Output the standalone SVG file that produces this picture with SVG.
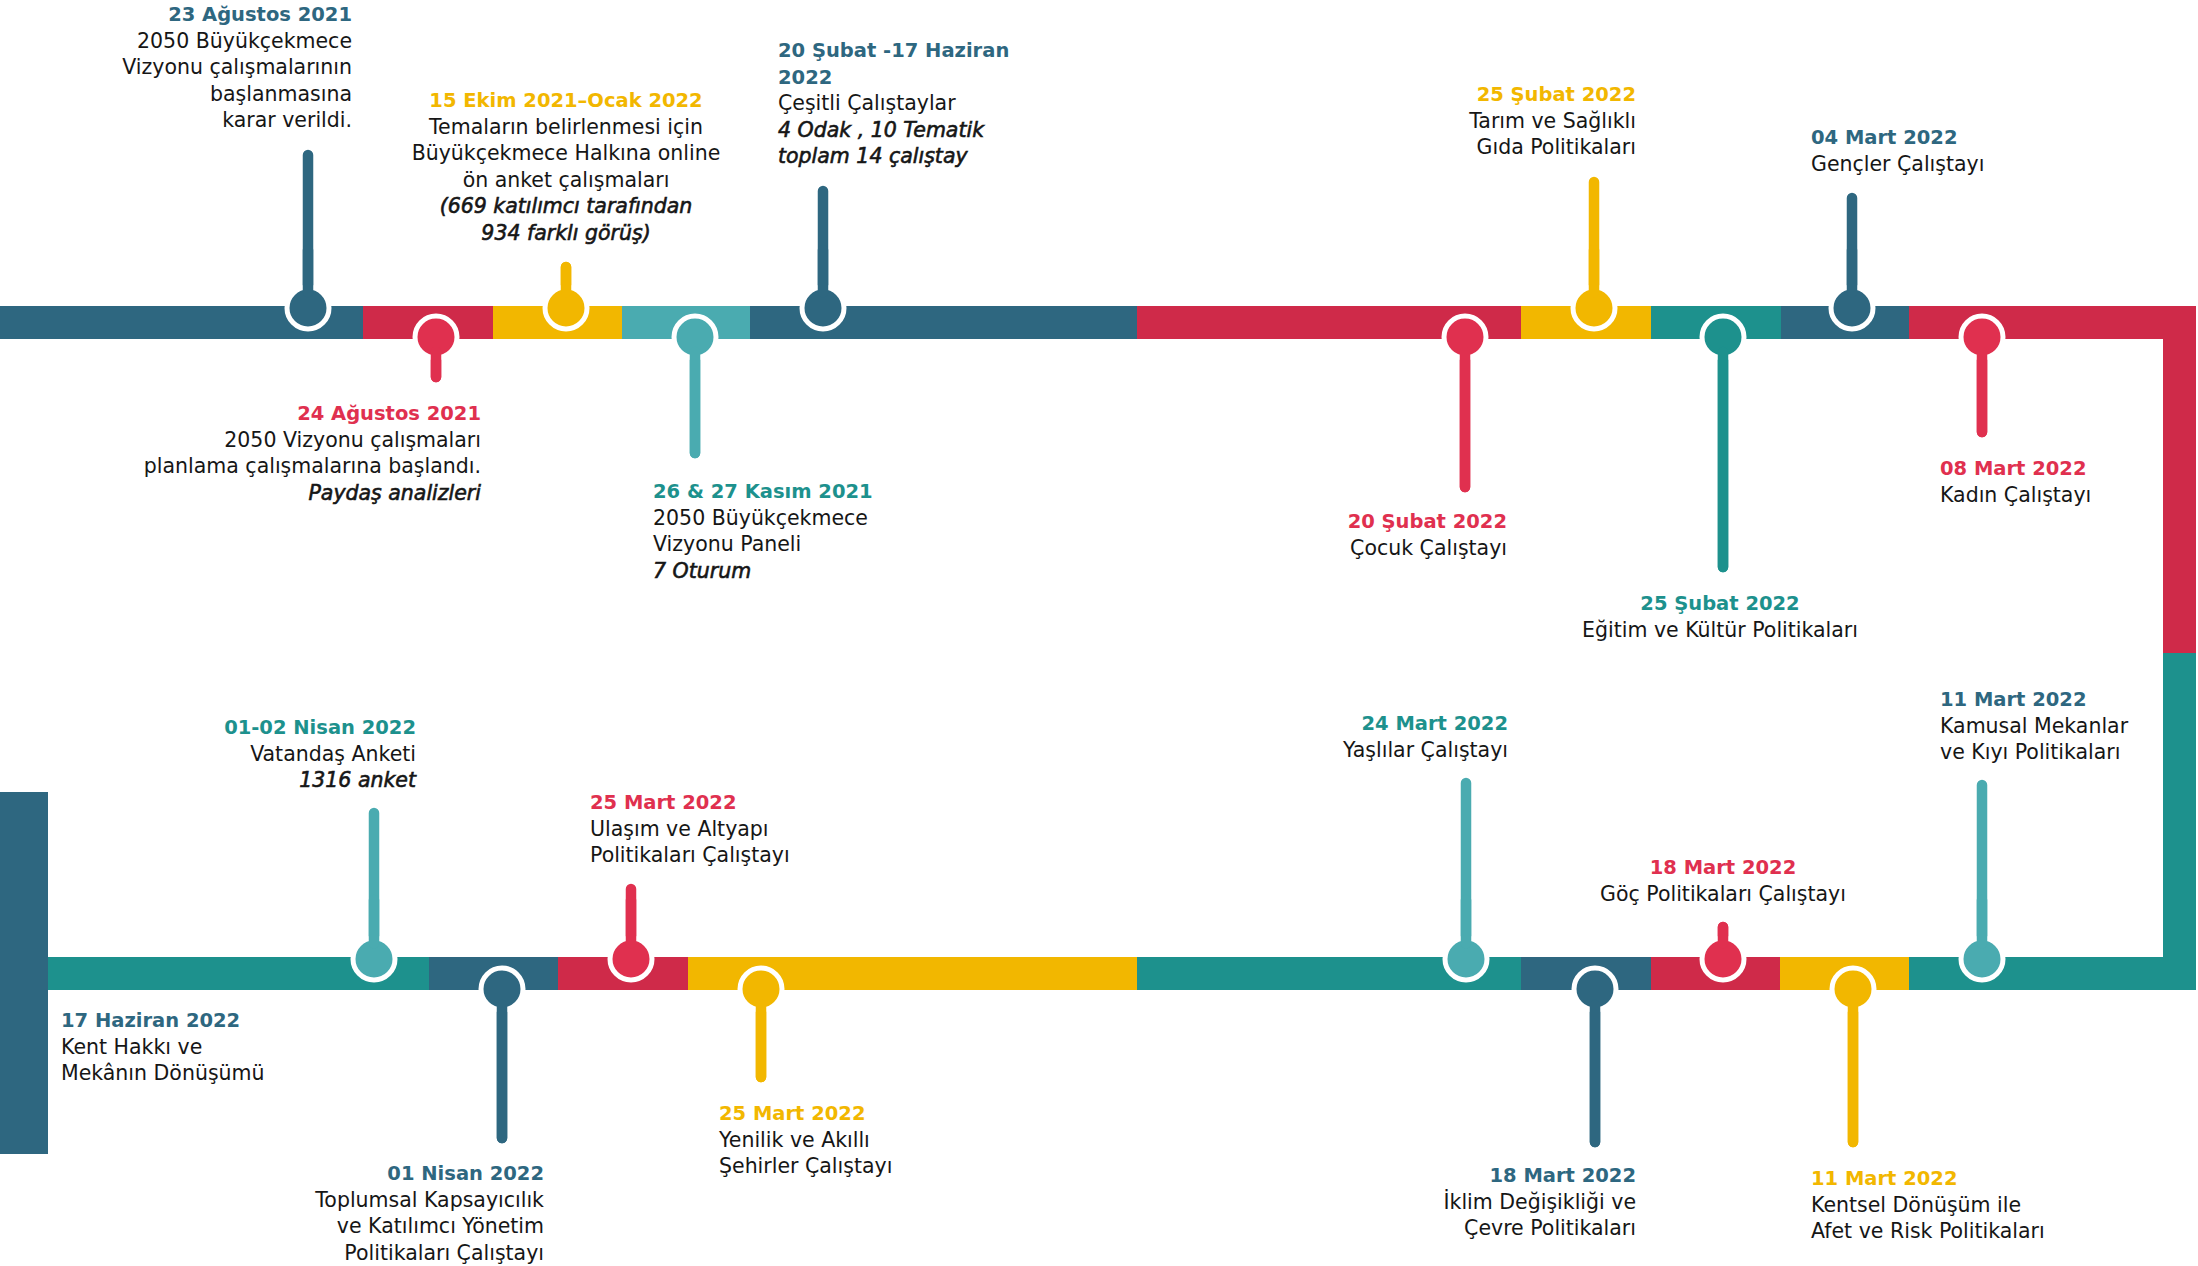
<svg xmlns="http://www.w3.org/2000/svg" width="2198" height="1266" viewBox="0 0 2198 1266">
<style>
.t{font-family:"DejaVu Sans","Liberation Sans",sans-serif;font-size:20.5px;fill:#161616}
.h{font-weight:bold;font-size:19.5px}
.i{font-style:italic;font-weight:normal;stroke:#161616;stroke-width:0.6}
.e{text-anchor:end}.m{text-anchor:middle}
.cb{fill:#2E6780}.cr{fill:#E0304F}.cy{fill:#F2B700}.cl{fill:#4AABB0}.ct{fill:#1D918D}
.sb{stroke:#2E6780}.sr{stroke:#E0304F}.sy{stroke:#F2B700}.sl{stroke:#4AABB0}.st{stroke:#1D918D}
.stem{stroke-width:10.5;stroke-linecap:round;fill:none}
.dot{stroke:#fff;stroke-width:5}
</style>
<rect width="2198" height="1266" fill="#fff"/>
<g id="track">
<rect x="0" y="306" width="363" height="33" fill="#2E6780"/>
<rect x="363" y="306" width="130" height="33" fill="#CF2A49"/>
<rect x="493" y="306" width="129" height="33" fill="#F2B700"/>
<rect x="622" y="306" width="128" height="33" fill="#4AABB0"/>
<rect x="750" y="306" width="387" height="33" fill="#2E6780"/>
<rect x="1137" y="306" width="384" height="33" fill="#CF2A49"/>
<rect x="1521" y="306" width="130" height="33" fill="#F2B700"/>
<rect x="1651" y="306" width="130" height="33" fill="#1D918D"/>
<rect x="1781" y="306" width="128" height="33" fill="#2E6780"/>
<rect x="1909" y="306" width="287" height="33" fill="#CF2A49"/>
<rect x="2163" y="306" width="33" height="347" fill="#CF2A49"/>
<rect x="2163" y="653" width="33" height="337" fill="#1D918D"/>
<rect x="0" y="792" width="48" height="362" fill="#2E6780"/>
<rect x="48" y="957" width="381" height="33" fill="#1D918D"/>
<rect x="429" y="957" width="129" height="33" fill="#2E6780"/>
<rect x="558" y="957" width="130" height="33" fill="#CF2A49"/>
<rect x="688" y="957" width="449" height="33" fill="#F2B700"/>
<rect x="1137" y="957" width="384" height="33" fill="#1D918D"/>
<rect x="1521" y="957" width="130" height="33" fill="#2E6780"/>
<rect x="1651" y="957" width="129" height="33" fill="#CF2A49"/>
<rect x="1780" y="957" width="129" height="33" fill="#F2B700"/>
<rect x="1909" y="957" width="287" height="33" fill="#1D918D"/>
</g>
<g id="connectors">
<line class="stem sb" x1="308" y1="155" x2="308" y2="308"/>
<line class="stem sr" x1="436" y1="337" x2="436" y2="377"/>
<line class="stem sy" x1="566" y1="267" x2="566" y2="308"/>
<line class="stem sl" x1="695" y1="337" x2="695" y2="453"/>
<line class="stem sb" x1="823" y1="191" x2="823" y2="308"/>
<line class="stem sr" x1="1465" y1="337" x2="1465" y2="487"/>
<line class="stem sy" x1="1594" y1="182" x2="1594" y2="308"/>
<line class="stem st" x1="1723" y1="337" x2="1723" y2="567"/>
<line class="stem sb" x1="1852" y1="198" x2="1852" y2="308"/>
<line class="stem sr" x1="1982" y1="337" x2="1982" y2="432"/>
<line class="stem sl" x1="374" y1="813" x2="374" y2="959"/>
<line class="stem sb" x1="502" y1="989" x2="502" y2="1138"/>
<line class="stem sr" x1="631" y1="889" x2="631" y2="959"/>
<line class="stem sy" x1="761" y1="989" x2="761" y2="1077"/>
<line class="stem sl" x1="1466" y1="783" x2="1466" y2="959"/>
<line class="stem sb" x1="1595" y1="989" x2="1595" y2="1142"/>
<line class="stem sr" x1="1723" y1="927" x2="1723" y2="959"/>
<line class="stem sy" x1="1853" y1="989" x2="1853" y2="1142"/>
<line class="stem sl" x1="1982" y1="785" x2="1982" y2="959"/>
</g>
<g id="e1"><circle class="dot cb" cx="308" cy="308" r="21"/><line class="stem sb" x1="308" y1="250" x2="308" y2="292"/>
<text class="t e" x="352" y="21"><tspan class="h cb">23 Ağustos 2021</tspan><tspan x="352" dy="26.5">2050 Büyükçekmece</tspan><tspan x="352" dy="26.5">Vizyonu çalışmalarının</tspan><tspan x="352" dy="26.5">başlanmasına</tspan><tspan x="352" dy="26.5">karar verildi.</tspan></text></g>
<g id="e2"><circle class="dot cr" cx="436" cy="337" r="21"/><line class="stem sr" x1="436" y1="352" x2="436" y2="377"/>
<text class="t e" x="481" y="420"><tspan class="h cr">24 Ağustos 2021</tspan><tspan x="481" dy="26.5">2050 Vizyonu çalışmaları</tspan><tspan x="481" dy="26.5">planlama çalışmalarına başlandı.</tspan><tspan x="481" dy="26.5" class="i">Paydaş analizleri</tspan></text></g>
<g id="e3"><circle class="dot cy" cx="566" cy="308" r="21"/><line class="stem sy" x1="566" y1="267" x2="566" y2="292"/>
<text class="t m" x="566" y="107"><tspan class="h cy">15 Ekim 2021–Ocak 2022</tspan><tspan x="566" dy="26.5">Temaların belirlenmesi için</tspan><tspan x="566" dy="26.5">Büyükçekmece Halkına online</tspan><tspan x="566" dy="26.5">ön anket çalışmaları</tspan><tspan x="566" dy="26.5" class="i">(669 katılımcı tarafından</tspan><tspan x="566" dy="26.5" class="i">934 farklı görüş)</tspan></text></g>
<g id="e4"><circle class="dot cl" cx="695" cy="337" r="21"/><line class="stem sl" x1="695" y1="352" x2="695" y2="453"/>
<text class="t" x="653" y="498"><tspan class="h ct">26 &amp; 27 Kasım 2021</tspan><tspan x="653" dy="26.5">2050 Büyükçekmece</tspan><tspan x="653" dy="26.5">Vizyonu Paneli</tspan><tspan x="653" dy="26.5" class="i">7 Oturum</tspan></text></g>
<g id="e5"><circle class="dot cb" cx="823" cy="308" r="21"/><line class="stem sb" x1="823" y1="250" x2="823" y2="292"/>
<text class="t" x="778" y="57"><tspan class="h cb">20 Şubat -17 Haziran</tspan><tspan x="778" dy="26.5" class="h cb">2022</tspan><tspan x="778" dy="26.5">Çeşitli Çalıştaylar</tspan><tspan x="778" dy="26.5" class="i">4 Odak , 10 Tematik</tspan><tspan x="778" dy="26.5" class="i">toplam 14 çalıştay</tspan></text></g>
<g id="e6"><circle class="dot cr" cx="1465" cy="337" r="21"/><line class="stem sr" x1="1465" y1="352" x2="1465" y2="487"/>
<text class="t e" x="1507" y="528"><tspan class="h cr">20 Şubat 2022</tspan><tspan x="1507" dy="27">Çocuk Çalıştayı</tspan></text></g>
<g id="e7"><circle class="dot cy" cx="1594" cy="308" r="21"/><line class="stem sy" x1="1594" y1="250" x2="1594" y2="292"/>
<text class="t e" x="1636" y="101"><tspan class="h cy">25 Şubat 2022</tspan><tspan x="1636" dy="26.5">Tarım ve Sağlıklı</tspan><tspan x="1636" dy="26.5">Gıda Politikaları</tspan></text></g>
<g id="e8"><circle class="dot ct" cx="1723" cy="337" r="21"/><line class="stem st" x1="1723" y1="352" x2="1723" y2="567"/>
<text class="t m" x="1720" y="610"><tspan class="h ct">25 Şubat 2022</tspan><tspan x="1720" dy="27">Eğitim ve Kültür Politikaları</tspan></text></g>
<g id="e9"><circle class="dot cb" cx="1852" cy="308" r="21"/><line class="stem sb" x1="1852" y1="250" x2="1852" y2="292"/>
<text class="t" x="1811" y="144"><tspan class="h cb">04 Mart 2022</tspan><tspan x="1811" dy="27">Gençler Çalıştayı</tspan></text></g>
<g id="e10"><circle class="dot cr" cx="1982" cy="337" r="21"/><line class="stem sr" x1="1982" y1="352" x2="1982" y2="432"/>
<text class="t" x="1940" y="475"><tspan class="h cr">08 Mart 2022</tspan><tspan x="1940" dy="27">Kadın Çalıştayı</tspan></text></g>
<g id="e11"><circle class="dot cl" cx="374" cy="959" r="21"/><line class="stem sl" x1="374" y1="900" x2="374" y2="943"/>
<text class="t e" x="416" y="734"><tspan class="h ct">01-02 Nisan 2022</tspan><tspan x="416" dy="26.5">Vatandaş Anketi</tspan><tspan x="416" dy="26.5" class="i">1316 anket</tspan></text></g>
<g id="e12"><circle class="dot cb" cx="502" cy="989" r="21"/><line class="stem sb" x1="502" y1="1005" x2="502" y2="1138"/>
<text class="t e" x="544" y="1180"><tspan class="h cb">01 Nisan 2022</tspan><tspan x="544" dy="26.5">Toplumsal Kapsayıcılık</tspan><tspan x="544" dy="26.5">ve Katılımcı Yönetim</tspan><tspan x="544" dy="26.5">Politikaları Çalıştayı</tspan></text></g>
<g id="e13"><circle class="dot cr" cx="631" cy="959" r="21"/><line class="stem sr" x1="631" y1="900" x2="631" y2="943"/>
<text class="t" x="590" y="809"><tspan class="h cr">25 Mart 2022</tspan><tspan x="590" dy="26.5">Ulaşım ve Altyapı</tspan><tspan x="590" dy="26.5">Politikaları Çalıştayı</tspan></text></g>
<g id="e14"><circle class="dot cy" cx="761" cy="989" r="21"/><line class="stem sy" x1="761" y1="1005" x2="761" y2="1077"/>
<text class="t" x="719" y="1120"><tspan class="h cy">25 Mart 2022</tspan><tspan x="719" dy="26.5">Yenilik ve Akıllı</tspan><tspan x="719" dy="26.5">Şehirler Çalıştayı</tspan></text></g>
<g id="e15"><circle class="dot cl" cx="1466" cy="959" r="21"/><line class="stem sl" x1="1466" y1="900" x2="1466" y2="943"/>
<text class="t e" x="1508" y="730"><tspan class="h ct">24 Mart 2022</tspan><tspan x="1508" dy="27">Yaşlılar Çalıştayı</tspan></text></g>
<g id="e16"><circle class="dot cb" cx="1595" cy="989" r="21"/><line class="stem sb" x1="1595" y1="1005" x2="1595" y2="1142"/>
<text class="t e" x="1636" y="1182"><tspan class="h cb">18 Mart 2022</tspan><tspan x="1636" dy="26.5">İklim Değişikliği ve</tspan><tspan x="1636" dy="26.5">Çevre Politikaları</tspan></text></g>
<g id="e17"><circle class="dot cr" cx="1723" cy="959" r="21"/><line class="stem sr" x1="1723" y1="927" x2="1723" y2="943"/>
<text class="t m" x="1723" y="874"><tspan class="h cr">18 Mart 2022</tspan><tspan x="1723" dy="27">Göç Politikaları Çalıştayı</tspan></text></g>
<g id="e18"><circle class="dot cy" cx="1853" cy="989" r="21"/><line class="stem sy" x1="1853" y1="1005" x2="1853" y2="1142"/>
<text class="t" x="1811" y="1185"><tspan class="h cy">11 Mart 2022</tspan><tspan x="1811" dy="26.5">Kentsel Dönüşüm ile</tspan><tspan x="1811" dy="26.5">Afet ve Risk Politikaları</tspan></text></g>
<g id="e19"><circle class="dot cl" cx="1982" cy="959" r="21"/><line class="stem sl" x1="1982" y1="900" x2="1982" y2="943"/>
<text class="t" x="1940" y="706"><tspan class="h cb">11 Mart 2022</tspan><tspan x="1940" dy="26.5">Kamusal Mekanlar</tspan><tspan x="1940" dy="26.5">ve Kıyı Politikaları</tspan></text></g>
<g id="e20"><text class="t" x="61" y="1027"><tspan class="h cb">17 Haziran 2022</tspan><tspan x="61" dy="26.5">Kent Hakkı ve</tspan><tspan x="61" dy="26.5">Mekânın Dönüşümü</tspan></text></g>
</svg>
